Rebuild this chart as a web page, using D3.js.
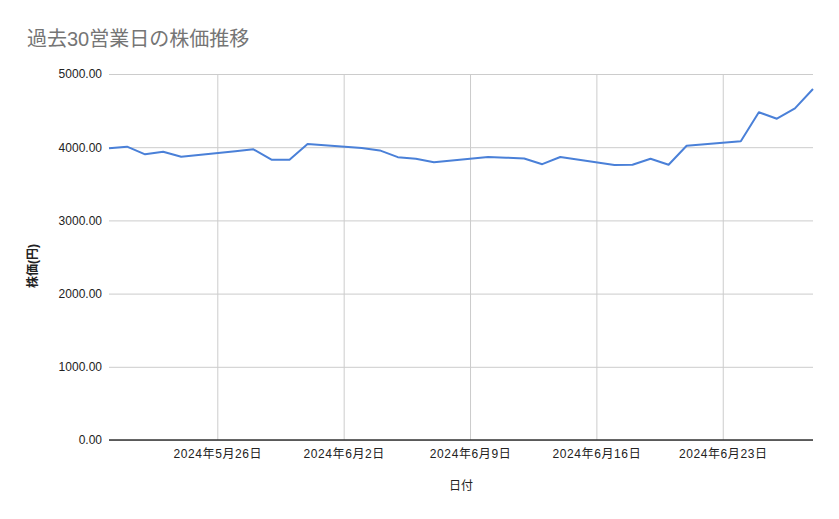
<!DOCTYPE html>
<html><head><meta charset="utf-8">
<script src="https://cdn.jsdelivr.net/npm/d3@7"></script>
<style>
html,body{margin:0;padding:0;background:#fff;}
text{font-family:"Liberation Sans","Noto Sans CJK JP",Arial,sans-serif;}
</style></head>
<body>
<svg id="chart" width="839" height="519"></svg>
<script>
const title = "過去30営業日の株価推移";
const xTitle = "日付";
const yTitle = "株価(円)";
const dates = ["2024-05-20","2024-05-21","2024-05-22","2024-05-23","2024-05-24",
  "2024-05-27","2024-05-28","2024-05-29","2024-05-30","2024-05-31",
  "2024-06-03","2024-06-04","2024-06-05","2024-06-06","2024-06-07",
  "2024-06-10","2024-06-11","2024-06-12","2024-06-13","2024-06-14",
  "2024-06-17","2024-06-18","2024-06-19","2024-06-20","2024-06-21",
  "2024-06-24","2024-06-25","2024-06-26","2024-06-27","2024-06-28"];
const prices = [3985,4007,3903,3939,3870,
  3945,3971,3829,3829,4044,
  3988,3956,3864,3841,3794,
  3866,3857,3846,3768,3866,
  3756,3760,3843,3760,4019,
  4081,4477,4389,4531,4795];
const yTicks = [0,1000,2000,3000,4000,5000];

const parse = d3.timeParse("%Y-%m-%d");
const data = dates.map((d,i)=>({date:parse(d), value:prices[i]}));

const svg = d3.select("#chart");
const mLeft=109, mRight=813, mTop=74, mBottom=440;

const x = d3.scaleTime().domain(d3.extent(data,d=>d.date)).range([mLeft,mRight]);
const y = d3.scaleLinear().domain([0,5000]).range([mBottom,mTop]);

// title
svg.append("text").attr("x",27).attr("y",46).attr("font-size",20)
  .attr("fill","#757575").text(title);

// horizontal gridlines + y labels
const yAxis = d3.axisLeft(y).tickValues(yTicks).tickFormat(d3.format(".2f"))
  .tickSize(-(mRight-mLeft)).tickPadding(7);
const gy = svg.append("g").attr("transform",`translate(${mLeft},0)`).call(yAxis);
gy.select(".domain").remove();
gy.selectAll(".tick line").attr("stroke","#cccccc").attr("stroke-width",1);
gy.selectAll(".tick text").attr("font-size",12).attr("fill","#222")
  .attr("font-family","'Liberation Sans','Noto Sans CJK JP',Arial,sans-serif");

// vertical gridlines + x labels
const fmt = d => `${d.getFullYear()}年${d.getMonth()+1}月${d.getDate()}日`;
const xAxis = d3.axisBottom(x).ticks(d3.timeSunday.every(1)).tickFormat(fmt)
  .tickSize(-(mBottom-mTop)).tickPadding(9);
const gx = svg.append("g").attr("transform",`translate(0,${mBottom})`).call(xAxis);
gx.select(".domain").remove();
gx.selectAll(".tick line").attr("stroke","#cccccc").attr("stroke-width",1);
gx.selectAll(".tick text").attr("font-size",12).attr("fill","#222")
  .attr("letter-spacing","0.6px")
  .attr("font-family","'Liberation Sans','Noto Sans CJK JP',Arial,sans-serif");

// baseline
svg.append("line").attr("x1",mLeft).attr("x2",mRight).attr("y1",y(0)).attr("y2",y(0))
  .attr("stroke","#333").attr("stroke-width",1.3);

// line
const line = d3.line().x(d=>x(d.date)).y(d=>y(d.value));
svg.append("path").datum(data).attr("d",line).attr("fill","none")
  .attr("stroke","#4a80d8").attr("stroke-width",2).attr("stroke-linejoin","round");

// axis titles
svg.append("text").attr("x",461).attr("y",490).attr("text-anchor","middle")
  .attr("font-size",12).attr("fill","#222").text(xTitle);
svg.append("text").attr("transform","translate(37,266) rotate(-90)")
  .attr("text-anchor","middle").attr("font-size",12).attr("font-weight","bold")
  .attr("fill","#222").text(yTitle);
</script>
</body></html>
